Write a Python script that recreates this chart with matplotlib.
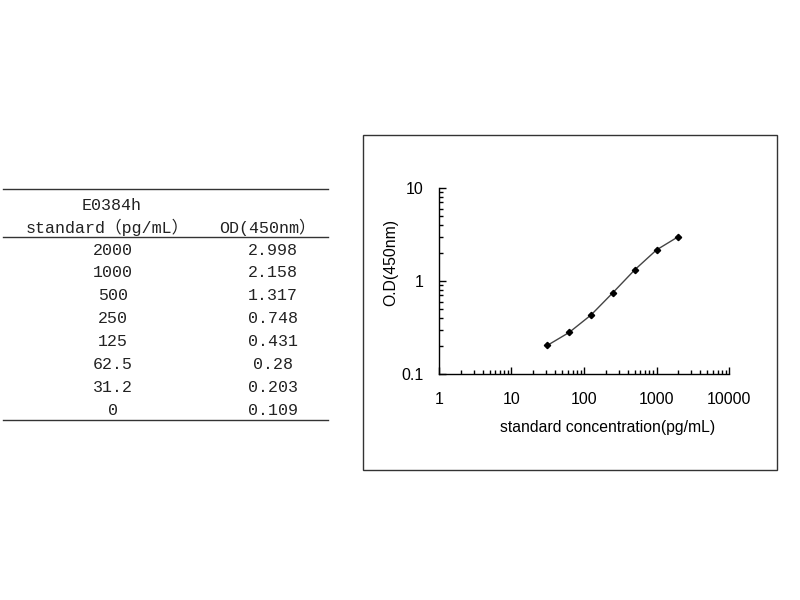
import matplotlib
matplotlib.use('Agg')
import matplotlib.pyplot as plt
from matplotlib.lines import Line2D
from matplotlib.patches import Rectangle
from matplotlib.ticker import LogLocator, NullFormatter, FixedLocator, FixedFormatter

# data from the standard table
conc_labels = ['2000', '1000', '500', '250', '125', '62.5', '31.2', '0']
od_labels = ['2.998', '2.158', '1.317', '0.748', '0.431', '0.28', '0.203', '0.109']
conc = [2000, 1000, 500, 250, 125, 62.5, 31.2]
od = [2.998, 2.158, 1.317, 0.748, 0.431, 0.28, 0.203]

x_ticks = [1, 10, 100, 1000, 10000]
x_ticklabels = ['1', '10', '100', '1000', '10000']
y_ticks = [0.1, 1, 10]
y_ticklabels = ['0.1', '1', '10']

W, H = 800, 600
fig = plt.figure(figsize=(8, 6), dpi=100)

def fx(px):
    return px / W

def fy(py):
    return 1 - py / H

# ---- table on the left
mono = ['Liberation Mono', 'Noto Sans CJK SC']
tsize = 12
tcol = '#222222'
line_col = '#333333'
for py in [189, 237, 420]:
    fig.add_artist(Line2D([fx(3), fx(328)], [fy(py), fy(py)], color=line_col,
                          lw=1.0, transform=fig.transFigure))

fig.text(fx(112), fy(205), 'E0384h', family=mono, fontsize=tsize,
         ha='center', va='center', color=tcol)
fig.text(fx(107), fy(227), 'standard（pg/mL）', family=mono, fontsize=tsize,
         ha='center', va='center', color=tcol)
fig.text(fx(267), fy(227), 'OD(450nm）', family=mono, fontsize=tsize,
         ha='center', va='center', color=tcol)

row_y0 = 250
row_step = 22.9
for i, (c, o) in enumerate(zip(conc_labels, od_labels)):
    y = fy(row_y0 + i * row_step)
    fig.text(fx(113), y, c, family=mono, fontsize=tsize, ha='center',
             va='center', color=tcol)
    fig.text(fx(273), y, o, family=mono, fontsize=tsize, ha='center',
             va='center', color=tcol)

# ---- chart frame on the right
fig.add_artist(Rectangle((fx(363), fy(470)), fx(777) - fx(363), fy(135) - fy(470),
                         fill=False, edgecolor='#333333', lw=1.0,
                         transform=fig.transFigure))

ax = fig.add_axes([fx(439), fy(374), fx(729) - fx(439), fy(188) - fy(374)])
ax.plot(conc, od, color='#444444', lw=1.0, marker='D', markersize=3.2,
        markerfacecolor='black', markeredgecolor='black')
ax.set_xscale('log')
ax.set_yscale('log')
ax.set_xlim(1, 10000)
ax.set_ylim(0.1, 10)

for s in ['top', 'right']:
    ax.spines[s].set_visible(False)
for s in ['left', 'bottom']:
    ax.spines[s].set_linewidth(1.0)
    ax.spines[s].set_color('black')

sans = 'Liberation Sans'
ax.xaxis.set_major_locator(FixedLocator(x_ticks))
ax.xaxis.set_major_formatter(FixedFormatter(x_ticklabels))
ax.yaxis.set_major_locator(FixedLocator(y_ticks))
ax.yaxis.set_major_formatter(FixedFormatter(y_ticklabels))
ax.xaxis.set_minor_locator(LogLocator(base=10, subs=range(2, 10)))
ax.yaxis.set_minor_locator(LogLocator(base=10, subs=range(2, 10)))
ax.xaxis.set_minor_formatter(NullFormatter())
ax.yaxis.set_minor_formatter(NullFormatter())

ax.tick_params(axis='both', which='major', direction='in', length=5, width=1,
               labelsize=11.5)
ax.tick_params(axis='both', which='minor', direction='in', length=3, width=1)
ax.tick_params(axis='x', which='major', pad=13)
ax.tick_params(axis='y', which='major', pad=11)
for lab in ax.get_xticklabels() + ax.get_yticklabels():
    lab.set_family(sans)

ax.set_xlabel('standard concentration(pg/mL)', family=sans, fontsize=11.3)
ax.set_ylabel('O.D(450nm)', family=sans, fontsize=11.3)
ax.xaxis.set_label_coords(0.58, -0.245)
ax.yaxis.set_label_coords(-0.14, 0.6)

fig.savefig('out.png', dpi=100)
